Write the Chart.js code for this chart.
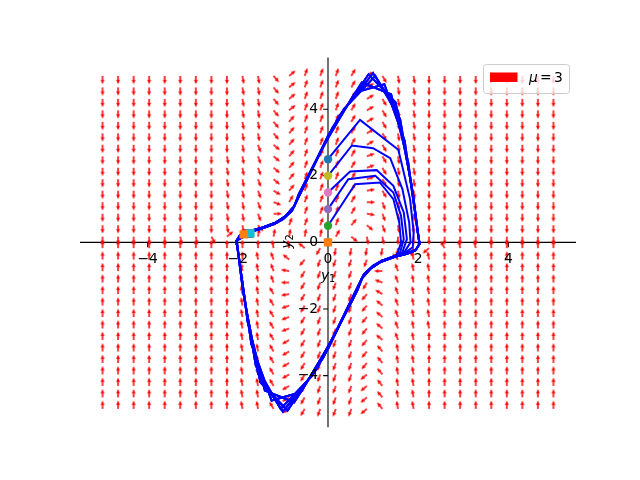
<!DOCTYPE html>
<html>
<head>
<meta charset="utf-8">
<script src="https://cdn.jsdelivr.net/npm/chart.js"></script>
<style>body{margin:0;background:#fff}</style>
</head>
<body>
<canvas id="chart" width="640" height="480"></canvas>
<script>
// quiver grid (30 x 30) and arrow directions, one char per arrow = angle/10 deg
const gridX = [-5, -4.655, -4.31, -3.966, -3.621, -3.276, -2.931, -2.586, -2.241, -1.897,
  -1.552, -1.207, -0.862, -0.517, -0.172, 0.172, 0.517, 0.862, 1.207, 1.552,
  1.897, 2.241, 2.586, 2.931, 3.276, 3.621, 3.966, 4.31, 4.655, 5];
const gridY = [5, 4.655, 4.31, 3.966, 3.621, 3.276, 2.931, 2.586, 2.241, 1.897,
  1.552, 1.207, 0.862, 0.517, 0.172, -0.172, -0.517, -0.862, -1.207, -1.552,
  -1.897, -2.241, -2.586, -2.931, -3.276, -3.621, -3.966, -4.31, -4.655, -5];
const dirCodes = '0123456789abcdefghijklmnopqrstuvwxyz';
const fieldRows = [
  'rrrrrrrr' + 'rssv477763uss' + 'rrrrrrrrr',
  'rrrrrrrr' + 'rssv477763uss' + 'rrrrrrrrr',
  'rrrrrrrr' + 'rssv477763uss' + 'rrrrrrrrr',
  'rrrrrrrr' + 'rssv477763uss' + 'rrrrrrrrr',
  'rrrrrrrr' + 'rssv577763uss' + 'rrrrrrrrr',
  'rrrrrrrr' + 'rssv577763uss' + 'rrrrrrrrr',
  'rrrrrrrr' + 'rstw577763uss' + 'rrrrrrrrr',
  'rrrrrrrr' + 'sstw577762uss' + 'rrrrrrrrr',
  'rrrrrrrr' + 'sstw577762uss' + 'rrrrrrrrr',
  'rrrrrrrr' + 'sstw577762uss' + 'rrrrrrrrr',
  'rrrrrrrr' + 'sstx577761uss' + 'rrrrrrrrr',
  'rrrrrrrr' + 'ssty677760tss' + 'rrrrrrrrr',
  'rrrrrrrr' + 'sst067776ztss' + 'rrrrrrrrr',
  'rrrrrrrr' + 'ssv477775wtsr' + 'rrrrrrrrr',
  'rrrrrssu' + '47888886wssrr' + 'rrrrrrrrr',
  '999999999' + '99aaeoqqqqqpm' + 'caa99999',
  '999999999' + '9abenppppmdaa' + '99999999',
  '999999999' + 'aabhopppoibaa' + '99999999',
  '999999999' + 'aabiopppogbaa' + '99999999',
  '999999999' + 'aacjopppnfbaa' + '99999999',
  '999999999' + 'aackopppnebaa' + '99999999',
  '999999999' + 'aackopppnebaa' + '99999999',
  '999999999' + 'aackopppnebaa' + '99999999',
  '999999999' + 'aaclopppneba9' + '99999999',
  '999999999' + 'aaclopppndaa9' + '99999999',
  '999999999' + 'aaclopppndaa9' + '99999999',
  '999999999' + 'aaclopppmdaa9' + '99999999',
  '999999999' + 'aaclopppmdaa9' + '99999999',
  '999999999' + 'aaclopppmdaa9' + '99999999',
  '999999999' + 'aaclopppmdaa9' + '99999999'
];

// limit cycle pieces: slow parts and coarse fast passes
const slowUpper = [[-2.03, 0.05], [-1.95, 0.22], [-1.8, 0.3], [-1.5, 0.4], [-1.2, 0.55],
  [-1.0, 0.7], [-0.8, 0.95]];
const slowUpperB = [[-2.03, 0.05], [-1.93, 0.25], [-1.75, 0.34], [-1.45, 0.45], [-1.15, 0.6],
  [-0.95, 0.78], [-0.75, 1.08]];
const slowLower = [[2.03, -0.05], [1.95, -0.22], [1.8, -0.3], [1.5, -0.4], [1.2, -0.55],
  [1.0, -0.7], [0.8, -0.95]];
const slowLowerB = [[2.03, -0.05], [1.93, -0.25], [1.75, -0.34], [1.45, -0.45], [1.15, -0.6],
  [0.95, -0.78], [0.75, -1.08]];
const fastUp1 = [[-0.55, 1.7], [-0.1, 2.9], [0.6, 4.5], [1.25, 4.75], [1.7, 3.05], [1.93, 0.9], [2.02, 0.05]];
const fastUp2 = [[-0.4, 2.05], [0.1, 3.45], [0.9, 5.05], [1.5, 4.2], [1.85, 1.75], [1.98, 0.4]];
const fastUp3 = [[-0.65, 1.45], [-0.25, 2.5], [0.35, 4.0], [1.05, 5.0], [1.6, 3.7], [1.9, 1.3], [2.0, 0.2]];
const fastUp4 = [[-0.5, 1.8], [0.0, 3.2], [0.75, 4.8], [1.4, 4.45], [1.78, 2.4], [1.96, 0.6]];
const fastUp5 = [[-0.3, 2.35], [0.25, 3.8], [1.0, 5.08], [1.55, 3.95], [1.88, 1.5], [2.0, 0.25]];
const fastDown1 = [[0.55, -1.7], [0.1, -2.9], [-0.6, -4.5], [-1.25, -4.75], [-1.7, -3.05], [-1.93, -0.9], [-2.02, -0.05]];
const fastDown2 = [[0.4, -2.05], [-0.1, -3.45], [-0.9, -5.05], [-1.5, -4.2], [-1.85, -1.75], [-1.98, -0.4]];
const fastDown3 = [[0.65, -1.45], [0.25, -2.5], [-0.35, -4.0], [-1.05, -5.0], [-1.6, -3.7], [-1.9, -1.3], [-2.0, -0.2]];
const fastDown4 = [[0.5, -1.8], [0.0, -3.2], [-0.75, -4.8], [-1.4, -4.45], [-1.78, -2.4], [-1.96, -0.6]];
const fastDown5 = [[0.3, -2.35], [-0.25, -3.8], [-1.0, -5.08], [-1.55, -3.95], [-1.88, -1.5], [-2.0, -0.25]];
// first arcs from each starting point
const arc05 = [[0, 0.5], [0.6, 1.75], [1.15, 1.8], [1.45, 1.3], [1.58, 0.6], [1.62, 0.0], [1.55, -0.3]];
const arc10 = [[0, 1], [0.45, 1.9], [1.05, 2.0], [1.45, 1.5], [1.62, 0.8], [1.68, 0.1], [1.6, -0.3]];
const arc15 = [[0, 1.5], [0.49, 2.13], [1.08, 2.17], [1.45, 1.7], [1.68, 0.9], [1.75, 0.1], [1.65, -0.3]];
const arc20 = [[0, 2], [0.53, 2.91], [1.0, 2.83], [1.38, 2.53], [1.65, 1.6], [1.8, 0.6], [1.83, 0.0], [1.7, -0.28]];
const arc25 = [[0, 2.5], [0.71, 3.68], [1.56, 2.78], [1.82, 1.3], [1.9, 0.3], [1.88, -0.15], [1.75, -0.27]];
const startY = [0, 0.5, 1, 1.5, 2, 2.5];
const endPts = [[0, 0], [-1.78, 0.26], [-1.76, 0.26], [-1.74, 0.27], [-1.72, 0.27], [-1.87, 0.24]];
const startColors = ['#1f77b4', '#2ca02c', '#9467bd', '#e377c2', '#bcbd22', '#1f77b4'];
const endColors = ['#ff7f0e', '#d62728', '#8c564b', '#7f7f7f', '#17becf', '#ff7f0e'];
const xTicks = [-4, -2, 0, 2, 4];
const yTicks = [-4, -2, 0, 2, 4];

function makeArrow() {
  const L = 8.4, S = 22, c = S / 2;
  const cv = document.createElement('canvas');
  cv.width = S; cv.height = S;
  const g = cv.getContext('2d');
  g.fillStyle = '#ff0000';
  g.beginPath();
  g.moveTo(c, c - 0.75);
  g.lineTo(c + L - 4.2, c - 0.75);
  g.lineTo(c + L - 4.7, c - 2.1);
  g.lineTo(c + L, c);
  g.lineTo(c + L - 4.7, c + 2.1);
  g.lineTo(c + L - 4.2, c + 0.75);
  g.lineTo(c, c + 0.75);
  g.closePath();
  g.fill();
  return cv;
}
const arrowImg = makeArrow();

const quiverPts = [];
gridY.forEach((yv, r) => {
  gridX.forEach((xv, c) => {
    quiverPts.push({x: xv, y: yv, a: dirCodes.indexOf(fieldRows[r][c]) * 10});
  });
});

function pts(list) { return list.map(p => ({x: p[0], y: p[1]})); }
const lowerTail = slowLower.slice(3);
const su = slowUpper, sl = slowLower, suB = slowUpperB, slB = slowLowerB;
const trajectories = [
  [].concat(arc05, lowerTail, fastDown5, su, fastUp1, slB, fastDown2, suB, fastUp3, sl, fastDown4, [su[0], endPts[1]]),
  [].concat(arc10, lowerTail, fastDown4, suB, fastUp5, sl, fastDown1, su, fastUp2, slB, fastDown3, [su[0], endPts[2]]),
  [].concat(arc15, lowerTail, fastDown3, su, fastUp4, slB, fastDown5, suB, fastUp1, sl, fastDown2, [su[0], endPts[3]]),
  [].concat(arc20, lowerTail, fastDown2, suB, fastUp3, sl, fastDown4, su, fastUp5, slB, fastDown1, [su[0], endPts[4]]),
  [].concat(arc25, lowerTail, fastDown1, su, fastUp2, slB, fastDown3, suB, fastUp4, sl, fastDown5, [su[0], endPts[5]])
];

const datasets = [];
// markers on top
for (let k = startY.length - 1; k >= 0; k--) {
  datasets.push({data: [{x: endPts[k][0], y: endPts[k][1]}], pointStyle: 'rect', pointRadius: 5.9,
    backgroundColor: endColors[k], borderColor: endColors[k], borderWidth: 0});
  datasets.push({data: [{x: 0, y: startY[k]}], pointStyle: 'circle', pointRadius: 4.2,
    backgroundColor: startColors[k], borderColor: startColors[k], borderWidth: 0});
}
trajectories.forEach(t => {
  datasets.push({data: pts(t), showLine: true, borderColor: '#0000ff', borderWidth: 2,
    pointRadius: 0, tension: 0});
});
datasets.push({data: quiverPts, pointStyle: arrowImg, pointRadius: 1,
  rotation: ctx => ctx.raw ? -ctx.raw.a : 0});

const minus = v => (v < 0 ? '\u2212' + Math.abs(v) : String(v));

const axesPlugin = {
  id: 'centerAxes',
  beforeDatasetsDraw(chart) {
    const {ctx, chartArea: a, scales: {x, y}} = chart;
    const x0 = x.getPixelForValue(0), y0 = y.getPixelForValue(0);
    ctx.save();
    ctx.strokeStyle = '#000';
    ctx.lineWidth = 1.1;
    ctx.beginPath();
    ctx.moveTo(a.left, y0); ctx.lineTo(a.right, y0);
    ctx.moveTo(x0, a.top); ctx.lineTo(x0, a.bottom);
    xTicks.forEach(v => { const p = x.getPixelForValue(v); ctx.moveTo(p, y0); ctx.lineTo(p, y0 + 4.9); });
    yTicks.forEach(v => { const p = y.getPixelForValue(v); ctx.moveTo(x0, p); ctx.lineTo(x0 - 4.9, p); });
    ctx.stroke();
    ctx.restore();
  },
  afterDatasetsDraw(chart) {
    const {ctx, scales: {x, y}} = chart;
    const x0 = x.getPixelForValue(0), y0 = y.getPixelForValue(0);
    ctx.save();
    ctx.fillStyle = '#000';
    ctx.font = '13.9px "DejaVu Sans"';
    ctx.textAlign = 'center'; ctx.textBaseline = 'top';
    xTicks.forEach(v => ctx.fillText(minus(v), x.getPixelForValue(v), y0 + 9.8));
    ctx.textAlign = 'right'; ctx.textBaseline = 'middle';
    yTicks.forEach(v => ctx.fillText(minus(v), x0 - 9.8, y.getPixelForValue(v)));
    // axis labels
    ctx.textAlign = 'left'; ctx.textBaseline = 'alphabetic';
    ctx.font = 'italic 13.9px "DejaVu Sans"';
    ctx.fillText('y', x0 - 7, y0 + 38);
    ctx.font = '9.7px "DejaVu Sans"';
    ctx.fillText('1', x0 + 1, y0 + 40);
    ctx.translate(x0 - 42, y0);
    ctx.rotate(-Math.PI / 2);
    ctx.font = 'italic 13.9px "DejaVu Sans"';
    ctx.fillText('y', -6, 5);
    ctx.font = '9.7px "DejaVu Sans"';
    ctx.fillText('2', 2, 7);
    ctx.restore();
    // legend
    ctx.save();
    ctx.beginPath();
    ctx.roundRect(483.5, 64.5, 86, 29, 3);
    ctx.fillStyle = 'rgba(255,255,255,0.8)';
    ctx.fill();
    ctx.strokeStyle = '#cccccc';
    ctx.lineWidth = 1;
    ctx.stroke();
    ctx.fillStyle = 'red';
    ctx.fillRect(490, 72.5, 27.5, 9.5);
    ctx.fillStyle = '#000';
    ctx.textBaseline = 'middle';
    ctx.font = 'italic 13.9px "DejaVu Sans"';
    ctx.fillText('\u03bc', 529, 78);
    ctx.font = '13.9px "DejaVu Sans"';
    ctx.fillText('=', 540, 78);
    ctx.fillText('3', 554, 78);
    ctx.restore();
  }
};

new Chart(document.getElementById('chart'), {
  type: 'scatter',
  data: {datasets: datasets},
  options: {
    responsive: false,
    animation: false,
    devicePixelRatio: 1,
    layout: {padding: {left: 80, right: 64, top: 57.6, bottom: 52.8}},
    scales: {
      x: {type: 'linear', min: -5.5, max: 5.5, display: false},
      y: {type: 'linear', min: -5.55, max: 5.55, display: false}
    },
    plugins: {legend: {display: false}, tooltip: {enabled: false}},
    events: []
  },
  plugins: [axesPlugin]
});
</script>
</body>
</html>
